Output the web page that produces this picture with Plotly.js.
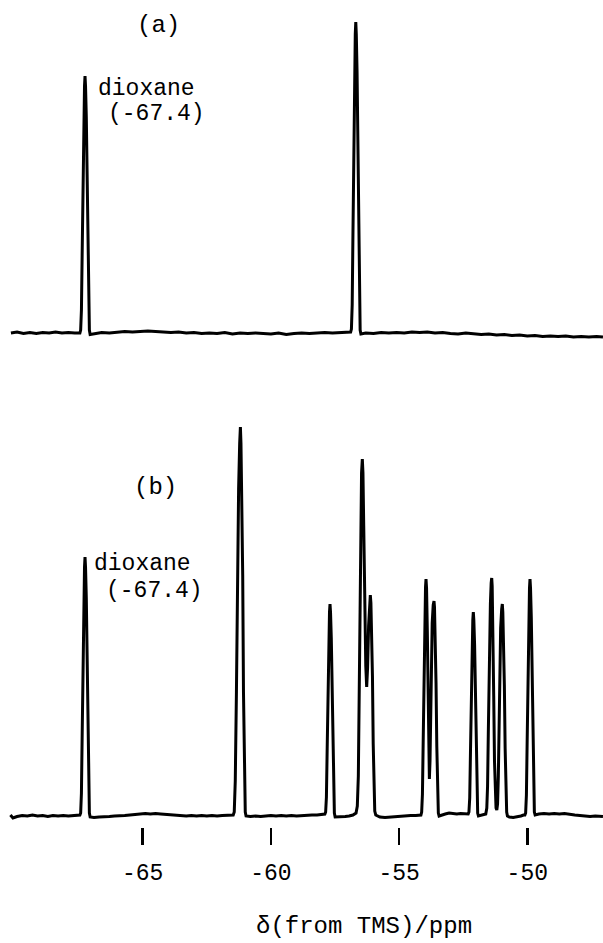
<!DOCTYPE html>
<html>
<head>
<meta charset="utf-8">
<script src="https://cdn.plot.ly/plotly-3.0.1.min.js"></script>
<style>html,body{margin:0;padding:0;background:#fff;}#chart{width:603px;height:943px;}</style>
</head>
<body>
<div id="chart"></div>
<script>
// Spectrum (a): chemical shift (ppm) and intensity (arb. units)
const ppmA = [
-70.14,-69.90,-69.65,-69.40,-69.15,-68.90,-68.65,-68.40,-68.15,-67.90,-67.65,-67.50,
-67.45,-67.42,-67.39,-67.36,-67.33,-67.30,-67.27,-67.25,-67.23,-67.20,-67.17,-67.14,-67.11,-67.08,-67.05,
-66.90,-66.60,-66.30,-66.00,-65.70,-65.40,-65.10,-64.80,-64.50,-64.20,-63.90,-63.60,-63.30,-63.00,-62.70,-62.40,-62.10,-61.80,-61.50,-61.20,-60.90,-60.60,-60.30,-60.00,-59.70,-59.40,-59.10,-58.80,-58.50,-58.20,-57.90,-57.60,-57.30,-57.05,-56.92,
-56.89,-56.86,-56.83,-56.80,-56.77,-56.74,-56.71,-56.69,-56.67,-56.64,-56.61,-56.58,-56.55,-56.52,-56.49,
-56.30,-56.00,-55.70,-55.40,-55.10,-54.80,-54.50,-54.20,-53.90,-53.60,-53.30,-53.00,-52.70,-52.40,-52.10,-51.80,-51.50,-51.20,-50.90,-50.60,-50.30,-50.00,-49.70,-49.40,-49.10,-48.80,-48.50,-48.20,-47.90,-47.60,-47.30,-47.05
];
const intensityA = [
0,1,-0.5,0.5,-0.5,0.5,0,1,0,0.5,0,0.5,
0,3,23,82,159,216,247,257,247,216,159,82,23,3,-1.5,
-1,0.5,0,1,1.5,1,1.5,2,1.5,1,0.5,1,0,0.5,-0.5,0,-0.5,0.5,-1,0,-0.5,0,-0.5,-1,0,-1.5,-0.5,0,-0.5,0,0.5,0,0.5,1,1.5,
1,4,28,100,193,261,299,311,299,261,193,100,28,3,-1,
0,-0.5,0.5,0,0.5,0,1,0.5,1,0,0.5,-0.5,-1,0,-1,-1.5,-1,-2,-1.5,-2.5,-2,-3,-2.5,-3.5,-3,-3.5,-3,-4,-3.5,-4,-3.5,-4
];

// Spectrum (b)
const ppmB = [
-70.16,-70.06,-69.90,-69.70,-69.50,-69.30,-69.10,-68.90,-68.70,-68.50,-68.30,-68.10,-67.90,-67.70,-67.55,
-67.45,-67.42,-67.39,-67.36,-67.33,-67.30,-67.27,-67.25,-67.23,-67.20,-67.17,-67.14,-67.11,-67.08,-67.05,
-66.90,-66.70,-66.50,-66.30,-66.10,-65.90,-65.70,-65.50,-65.30,-65.10,-64.90,-64.70,-64.50,-64.30,-64.10,-63.90,-63.70,-63.50,-63.30,-63.10,-62.90,-62.70,-62.50,-62.30,-62.10,-61.90,-61.70,-61.55,
-61.47,-61.43,-61.39,-61.345,-61.30,-61.26,-61.218,-61.19,-61.168,-61.135,-61.10,-61.07,-61.035,-61.00,-60.97,
-60.80,-60.60,-60.40,-60.20,-60.00,-59.80,-59.60,-59.40,-59.20,-59.00,-58.80,-58.60,-58.40,-58.20,-58.00,
-57.895,-57.865,-57.835,-57.805,-57.775,-57.745,-57.715,-57.695,-57.675,-57.645,-57.615,-57.585,-57.555,-57.525,-57.495,
-57.40,-57.25,-57.10,-56.95,-56.80,
-56.68,-56.63,-56.59,-56.56,-56.53,-56.50,-56.465,-56.435,-56.41,-56.38,-56.34,-56.30,-56.265,-56.23,-56.19,-56.15,-56.123,-56.10,-56.07,-56.04,-56.01,-55.98,-55.95,-55.91,-55.85,
-55.75,-55.55,-55.35,-55.15,-54.95,-54.75,-54.55,-54.35,-54.22,
-54.15,-54.12,-54.09,-54.06,-54.03,-54.00,-53.97,-53.951,-53.93,-53.90,-53.87,-53.845,-53.82,-53.795,-53.77,-53.74,-53.71,-53.67,-53.639,-53.62,-53.59,-53.56,-53.53,-53.50,-53.47,-53.44,
-53.35,-53.20,-53.05,-52.90,-52.75,-52.60,-52.45,-52.33,
-52.306,-52.276,-52.246,-52.216,-52.186,-52.156,-52.126,-52.106,-52.086,-52.056,-52.026,-51.996,-51.966,-51.936,-51.906,
-51.80,-51.70,
-51.62,-51.58,-51.55,-51.52,-51.48,-51.44,-51.41,-51.388,-51.37,-51.34,-51.31,-51.28,-51.25,-51.22,-51.19,-51.16,-51.13,-51.10,-51.07,-51.04,-51.00,-50.975,-50.955,-50.925,-50.895,-50.865,-50.835,-50.805,-50.775,
-50.70,-50.55,-50.40,-50.25,-50.15,
-50.095,-50.065,-50.035,-50.005,-49.975,-49.945,-49.915,-49.895,-49.875,-49.845,-49.815,-49.785,-49.755,-49.725,-49.695,
-49.55,-49.35,-49.15,-48.95,-48.75,-48.55,-48.35,-48.15,-47.95,-47.75,-47.55,-47.35,-47.05
];
const intensityB = [
1,-2,-0.5,0.5,0,1,0,0.5,-0.5,0.5,0,0.5,0,0.5,1,
1,3,23,83,161,218,249,259,249,218,161,83,23,3,-1,
-1.5,-1,-1,-0.5,0,0,0.5,1,1.5,2,2.5,2,2.5,2,1.5,1,1,0.5,0,0.5,0,0.5,0,0.5,0,0.5,1,1.5,
1,4,35,124,241,327,373,389,373,327,241,124,35,4,0,
-0.5,0,-0.5,0,0.5,0,0.5,0,0.5,0,0.5,0.5,1,1,1.5,
2,4,19,68,131,178,204,212,204,178,131,68,19,3,-1,
-1,-1,-0.5,0,1,
3,10,40,120,220,295,343,357,343,290,210,150,129,148,190,213,221,213,188,140,72,22,5,1,0,
-1,-1.5,-1,-1,0,0,0.5,0.5,1,
1,4,22,76,147,200,229,237,228,185,120,65,37,55,100,155,193,211,215,209,180,133,70,20,3,0,
1,2,3,2.5,2,2.5,2,2,
2,4,18,65,126,171,196,204,196,171,126,65,18,3,0,
1,2,
2,8,30,85,160,212,233,238,230,190,120,55,20,8,6,12,40,95,150,188,207,212,204,178,131,68,19,4,0,
-1,-1.5,-1,0,1,
1,3,21,76,147,199,228,237,228,199,147,76,21,4,1,
2,2.5,2,2.5,2,2.5,1.5,1,0.5,0,-0.5,0,-0.5
];

const tickValues = [-65, -60, -55, -50];
const tickLabels = ['-65', '-60', '-55', '-50'];
const spectrumLabels = ['(a)', '(b)'];
const referenceName = 'dioxane';
const referenceShift = '(-67.4)';
const xTitle = 'δ(from TMS)/ppm';

const FONT = '"Liberation Mono", "Courier New", "DejaVu Sans Mono", monospace';
const lineStyle = {color: '#000', width: 3};

const traces = [
  {x: ppmA, y: intensityA, xaxis: 'x', yaxis: 'y', mode: 'lines', line: lineStyle, hoverinfo: 'skip', showlegend: false},
  {x: ppmB, y: intensityB, xaxis: 'x', yaxis: 'y2', mode: 'lines', line: lineStyle, hoverinfo: 'skip', showlegend: false}
];

const ann = (x, y, yref, text, xanchor, size) => ({
  x: x, y: y, xref: 'x', yref: yref, text: text, showarrow: false,
  xanchor: xanchor, yanchor: 'middle', borderpad: 0,
  font: {family: FONT, size: size || 24, color: '#000'}
});

const layout = {
  width: 603, height: 943,
  margin: {l: 0, r: 0, t: 0, b: 116},
  paper_bgcolor: '#fff', plot_bgcolor: '#fff',
  showlegend: false,
  xaxis: {
    range: [-70.566, -47.048], anchor: 'y2',
    tickmode: 'array', tickvals: tickValues, ticktext: tickLabels,
    ticks: 'outside', ticklen: 17, tickwidth: 2.5, tickcolor: '#000',
    ticklabelstandoff: 7,
    tickfont: {family: FONT, size: 23, color: '#000'},
    showgrid: false, zeroline: false, showline: false
  },
  yaxis: {domain: [0.5828, 1], range: [-12, 333], visible: false, showgrid: false, zeroline: false},
  yaxis2: {domain: [0, 0.4921], range: [-11, 396], visible: false, showgrid: false, zeroline: false},
  annotations: [
    ann(-64.39, 308, 'y', spectrumLabels[0], 'center'),
    ann(-66.79, 244, 'y', referenceName, 'left', 23),
    ann(-66.38, 219, 'y', referenceShift, 'left', 23),
    ann(-64.52, 329, 'y2', spectrumLabels[1], 'center'),
    ann(-66.93, 252, 'y2', referenceName, 'left', 23),
    ann(-66.47, 225, 'y2', referenceShift, 'left', 23),
    {x: -56.37, xref: 'x', y: -(926 - 827) / 827, yref: 'paper', text: xTitle, showarrow: false,
     xanchor: 'center', yanchor: 'middle', font: {family: FONT, size: 24, color: '#000'}}
  ]
};

Plotly.newPlot('chart', traces, layout, {staticPlot: true, displayModeBar: false});
</script>
</body>
</html>
